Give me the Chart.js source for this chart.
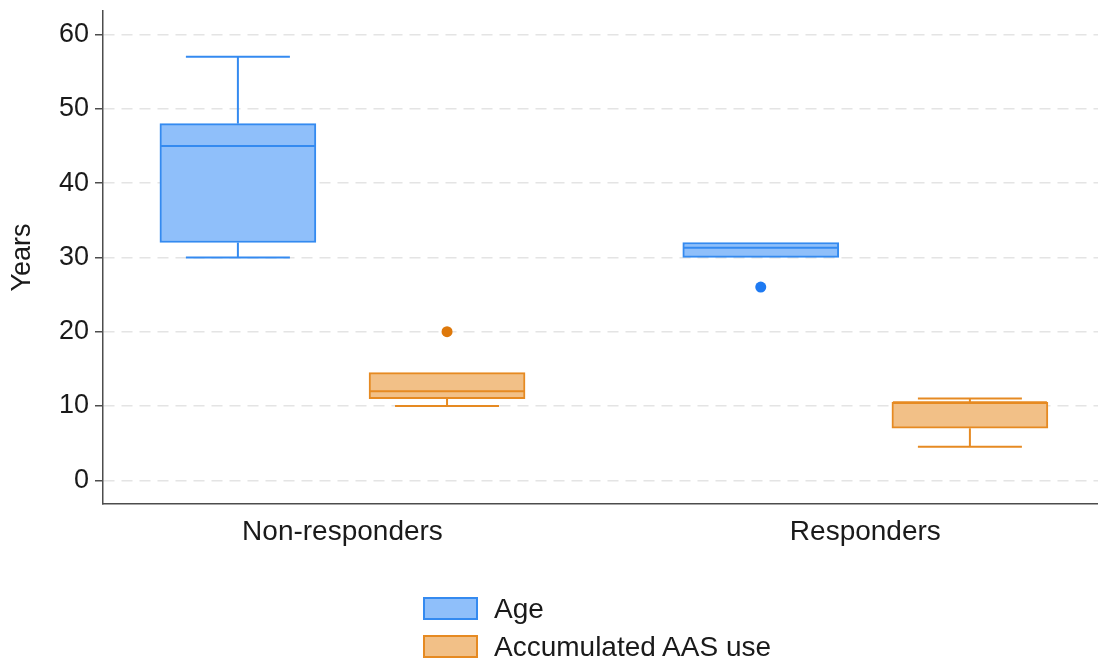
<!DOCTYPE html>
<html>
<head>
<meta charset="utf-8">
<script src="https://cdn.jsdelivr.net/npm/chart.js@4/dist/chart.umd.min.js"></script>
<style>
  html, body { margin: 0; padding: 0; background: #fff; }
  #wrap { position: relative; width: 1098px; height: 661px; font-family: "Liberation Sans", Arial, sans-serif; }
  #legend { position: absolute; left: 423px; top: 597px; }
  .item { display: flex; align-items: center; height: 23px; margin-bottom: 15px; }
  .swatch { box-sizing: border-box; width: 55px; height: 23px; border: 2px solid; }
  .item span { margin-left: 16px; font-size: 28px; color: #1a1a1a; line-height: 23px; white-space: nowrap; }
</style>
</head>
<body>
<div id="wrap">
  <canvas id="c" width="1098" height="661"></canvas>
  <div id="legend"></div>
</div>
<script>
// Box-plot summaries per group (years)
const groups = ['Non-responders', 'Responders'];
const yTickValues = [0, 10, 20, 30, 40, 50, 60];

const ageMin      = [30, 30];
const ageQ1       = [32, 30];
const ageMedian   = [45, 31.3];
const ageQ3       = [48, 32];
const ageMax      = [57, 32];
const ageOutliers = [[], [26]];

const aasMin      = [10, 4.5];
const aasQ1       = [11, 7];
const aasMedian   = [12, 10.5];
const aasQ3       = [14.5, 10.5];
const aasMax      = [14.5, 11];
const aasOutliers = [[20], []];

// Layout: group centres on the x value axis, and each series' shift inside a group
const GROUP_POS = [1, 2];
const SERIES_SHIFT = [-0.2, 0.2];
const BOX_PX = 156;
const CAP_PX = 104;
const FONT = '"Liberation Sans", Arial, sans-serif';
const AXIS_COLOR = '#4d4d4d';
const TEXT_COLOR = '#1a1a1a';

const series = [
  { label: 'Age', min: ageMin, q1: ageQ1, med: ageMedian, q3: ageQ3, max: ageMax, out: ageOutliers,
    fill: 'rgb(143,191,250)', line: 'rgb(52,138,240)', dot: 'rgb(30,122,242)' },
  { label: 'Accumulated AAS use', min: aasMin, q1: aasQ1, med: aasMedian, q3: aasQ3, max: aasMax, out: aasOutliers,
    fill: 'rgb(242,192,135)', line: 'rgb(230,138,34)', dot: 'rgb(222,120,10)' }
];

const boxDatasets = series.map((s, k) => ({
  type: 'bar',
  label: s.label,
  data: groups.map((g, i) => ({ x: GROUP_POS[i] + SERIES_SHIFT[k], y: [s.q1[i], s.q3[i]] })),
  backgroundColor: s.fill,
  borderColor: s.line,
  borderWidth: 2,
  borderSkipped: false,
  grouped: false,
  barThickness: BOX_PX,
  maxBarThickness: BOX_PX
}));

const outlierDatasets = series.map((s, k) => ({
  type: 'scatter',
  label: s.label + ' outliers',
  data: s.out.flatMap((vals, i) => vals.map(v => ({ x: GROUP_POS[i] + SERIES_SHIFT[k], y: v }))),
  backgroundColor: s.dot,
  borderWidth: 0,
  pointRadius: 5.5
}));

// Whiskers, caps and median lines drawn on top of the boxes
const whiskerPlugin = {
  id: 'whiskers',
  afterDatasetsDraw(chart) {
    const { ctx, scales: { x, y } } = chart;
    const seg = (x1, y1, x2, y2) => { ctx.beginPath(); ctx.moveTo(x1, y1); ctx.lineTo(x2, y2); ctx.stroke(); };
    series.forEach((s, k) => {
      groups.forEach((g, i) => {
        const cx = x.getPixelForValue(GROUP_POS[i] + SERIES_SHIFT[k]);
        ctx.save();
        ctx.strokeStyle = s.line;
        ctx.lineWidth = 2;
        if (s.max[i] > s.q3[i]) {
          const top = y.getPixelForValue(s.max[i]);
          seg(cx, y.getPixelForValue(s.q3[i]), cx, top);
          seg(cx - CAP_PX / 2, top, cx + CAP_PX / 2, top);
        }
        if (s.min[i] < s.q1[i]) {
          const bot = y.getPixelForValue(s.min[i]);
          seg(cx, y.getPixelForValue(s.q1[i]), cx, bot);
          seg(cx - CAP_PX / 2, bot, cx + CAP_PX / 2, bot);
        }
        const m = y.getPixelForValue(s.med[i]);
        seg(cx - BOX_PX / 2 + 1, m, cx + BOX_PX / 2 - 1, m);
        ctx.restore();
      });
    });
  }
};

Chart.defaults.font.family = FONT;

new Chart(document.getElementById('c'), {
  type: 'bar',
  data: { datasets: [...boxDatasets, ...outlierDatasets] },
  options: {
    responsive: false,
    animation: false,
    events: [],
    devicePixelRatio: 1,
    layout: { autoPadding: false, padding: { top: 11, left: 0, right: 0, bottom: 0 } },
    plugins: { legend: { display: false }, tooltip: { enabled: false } },
    scales: {
      x: {
        type: 'linear',
        min: 0.542,
        max: 2.445,
        offset: false,
        grid: { display: false, drawTicks: false },
        border: { display: true, color: AXIS_COLOR, width: 1.5 },
        ticks: {
          font: { size: 28 }, color: TEXT_COLOR, padding: 11,
          maxRotation: 0, autoSkip: false,
          callback: (v, i) => groups[i]
        },
        afterBuildTicks: s => { s.ticks = GROUP_POS.map(v => ({ value: v })); },
        afterFit: s => { s.height = 157; s.paddingLeft = 0; s.paddingRight = 0; }
      },
      y: {
        type: 'linear',
        min: -3.19,
        max: 63.16,
        grid: { color: '#e4e4e4', lineWidth: 1.5, drawTicks: true, tickLength: 8, tickColor: AXIS_COLOR, tickWidth: 1.5 },
        border: { display: true, color: AXIS_COLOR, width: 1.5, dash: [11, 7] },
        ticks: { font: { size: 27 }, color: TEXT_COLOR, padding: 6 },
        title: { display: true, text: 'Years', font: { size: 27 }, color: TEXT_COLOR, padding: { top: 6, bottom: 0 } },
        afterBuildTicks: s => { s.ticks = yTickValues.map(v => ({ value: v })); },
        afterFit: s => { s.width = 103; s.paddingTop = 0; s.paddingBottom = 0; }
      }
    }
  },
  plugins: [whiskerPlugin]
});

// Legend below the plot, one entry per row
const legend = document.getElementById('legend');
series.forEach(s => {
  const item = document.createElement('div');
  item.className = 'item';
  const sw = document.createElement('div');
  sw.className = 'swatch';
  sw.style.background = s.fill;
  sw.style.borderColor = s.line;
  const txt = document.createElement('span');
  txt.textContent = s.label;
  item.appendChild(sw);
  item.appendChild(txt);
  legend.appendChild(item);
});
</script>
</body>
</html>
